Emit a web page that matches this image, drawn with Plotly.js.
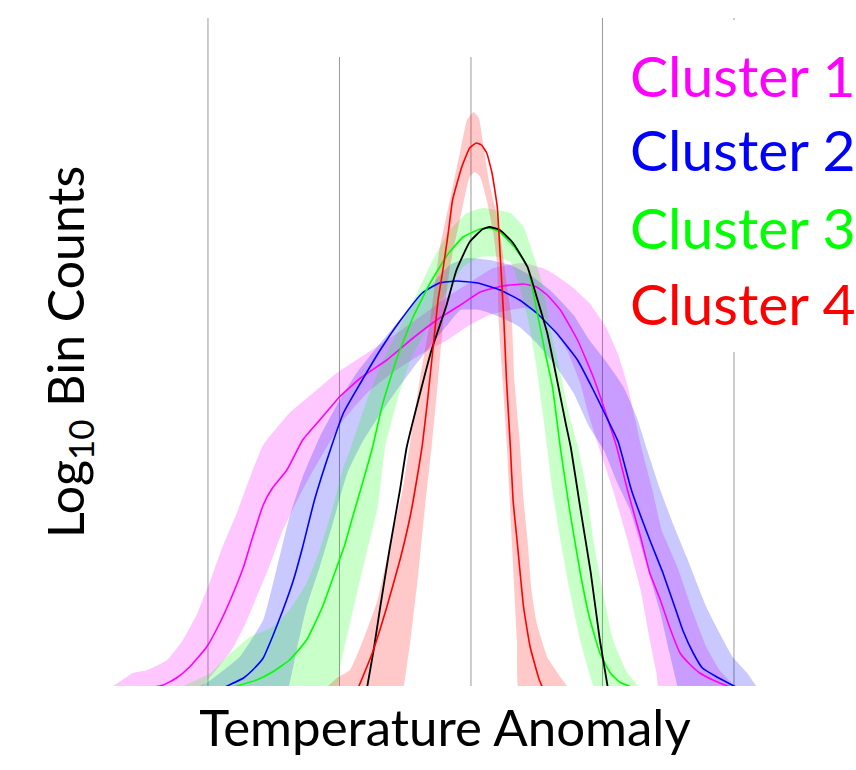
<!DOCTYPE html>
<html>
<head>
<meta charset="utf-8">
<script src="https://cdn.plot.ly/plotly-3.0.1.min.js"></script>
<style>html,body{margin:0;padding:0;background:#fff;}#chart{width:856px;height:770px;}</style>
</head>
<body>
<div id="chart"></div>
<script>
// ---- data (x: temperature anomaly, y: log10 bin counts) ----
const clusterNames = ['Cluster 1', 'Cluster 2', 'Cluster 3', 'Cluster 4'];
const xTitle = 'Temperature Anomaly';
const yTitle = 'Log<sub>10</sub> Bin Counts';

const c1LineX = [-2.53,-2.34,-2.24,-2.14,-2.01,-1.91,-1.83,-1.73,-1.66,-1.58,-1.51,-1.40,-1.28,-1.15,-1.00,-0.84,-0.64,-0.44,-0.26,-0.08,0.07,0.24,0.40,0.50,0.58,0.68,0.81,0.93,1.03,1.11,1.19,1.29,1.36,1.44,1.51,1.59,1.67,1.74,1.84,1.95,2.05];
const c1LineY = [-0.04,0.01,0.08,0.19,0.39,0.63,0.86,1.19,1.49,1.81,1.98,2.16,2.46,2.66,2.89,3.08,3.26,3.48,3.66,3.81,3.94,4.00,4.02,3.99,3.91,3.76,3.46,3.09,2.71,2.38,1.96,1.49,1.13,0.86,0.59,0.33,0.21,0.13,0.06,0.00,-0.04];
const c1UpperX = [-2.82,-2.72,-2.57,-2.46,-2.31,-2.19,-2.08,-1.98,-1.89,-1.78,-1.68,-1.58,-1.38,-1.20,-1.02,-0.79,-0.56,-0.39,-0.18,0.02,0.17,0.40,0.58,0.75,0.90,1.03,1.12,1.19,1.25,1.30,1.38,1.45,1.57,1.69,1.79,1.89,1.99,2.08];
const c1UpperY = [-0.09,0.00,0.13,0.16,0.26,0.46,0.73,1.06,1.39,1.73,2.09,2.41,2.73,2.93,3.13,3.33,3.53,3.69,3.89,4.06,4.18,4.23,4.16,4.01,3.83,3.58,3.31,3.01,2.66,2.36,1.96,1.56,1.19,0.73,0.39,0.16,0.02,-0.09];
const c1LowerX = [-2.10,-1.95,-1.82,-1.72,-1.63,-1.53,-1.43,-1.32,-1.22,-1.10,-0.97,-0.79,-0.59,-0.39,-0.18,-0.01,0.14,0.30,0.41,0.52,0.62,0.73,0.83,0.90,0.98,1.08,1.19,1.29,1.36,1.41,1.44];
const c1LowerY = [-0.09,0.14,0.36,0.61,0.89,1.21,1.56,1.86,2.11,2.38,2.66,2.93,3.14,3.31,3.46,3.61,3.71,3.76,3.78,3.73,3.59,3.36,3.03,2.69,2.36,1.96,1.46,0.96,0.46,0.13,-0.09];

const c2LineX = [-1.92,-1.73,-1.66,-1.58,-1.51,-1.43,-1.35,-1.28,-1.19,-1.07,-0.97,-0.84,-0.69,-0.54,-0.37,-0.24,-0.11,0.05,0.22,0.37,0.50,0.65,0.81,0.93,1.03,1.12,1.22,1.36,1.46,1.55,1.61,1.69,1.76,1.87,1.97,2.06];
const c2LineY = [-0.04,0.08,0.16,0.28,0.49,0.76,1.06,1.39,1.86,2.36,2.73,3.03,3.36,3.65,3.93,4.03,4.05,4.03,3.96,3.86,3.73,3.53,3.26,2.96,2.69,2.44,1.96,1.46,1.13,0.79,0.56,0.33,0.18,0.09,0.02,-0.04];
const c2UpperX = [-2.19,-1.98,-1.76,-1.58,-1.48,-1.38,-1.28,-1.15,-1.02,-0.87,-0.67,-0.46,-0.29,-0.16,-0.03,0.14,0.30,0.45,0.60,0.78,0.90,1.03,1.16,1.26,1.34,1.44,1.54,1.64,1.79,1.89,1.99,2.10,2.17,2.24];
const c2UpperY = [-0.09,0.06,0.29,0.66,1.16,1.69,2.09,2.49,2.81,3.13,3.46,3.79,4.03,4.21,4.28,4.26,4.21,4.11,3.96,3.71,3.46,3.24,2.99,2.69,2.36,1.96,1.61,1.29,0.79,0.53,0.29,0.13,0.00,-0.09];
const c2LowerX = [-1.40,-1.36,-1.32,-1.25,-1.15,-1.05,-0.94,-0.83,-0.71,-0.59,-0.44,-0.29,-0.18,-0.08,0.07,0.22,0.37,0.50,0.65,0.78,0.90,1.01,1.11,1.21,1.34,1.44,1.51,1.57,1.59];
const c2LowerY = [-0.09,0.14,0.39,0.79,1.19,1.63,2.13,2.43,2.68,2.91,3.18,3.43,3.61,3.76,3.76,3.69,3.59,3.43,3.19,2.93,2.59,2.36,2.04,1.76,1.19,0.73,0.33,0.00,-0.09];

const c3LineX = [-1.89,-1.63,-1.51,-1.38,-1.25,-1.13,-1.02,-0.96,-0.90,-0.84,-0.79,-0.75,-0.67,-0.56,-0.44,-0.31,-0.18,-0.06,0.07,0.14,0.22,0.33,0.43,0.50,0.56,0.62,0.68,0.75,0.83,0.90,0.98,1.06,1.13,1.22,1.29];
const c3LineY = [-0.04,0.06,0.14,0.26,0.46,0.79,1.19,1.41,1.69,1.96,2.19,2.38,2.83,3.29,3.69,4.03,4.31,4.49,4.57,4.58,4.54,4.39,4.19,3.76,3.36,2.99,2.38,1.76,1.14,0.69,0.33,0.13,0.04,-0.01,-0.04];
const c3UpperX = [-2.33,-2.14,-1.98,-1.86,-1.68,-1.51,-1.38,-1.25,-1.15,-1.05,-0.97,-0.92,-0.79,-0.67,-0.54,-0.41,-0.29,-0.16,-0.03,0.09,0.20,0.30,0.40,0.47,0.55,0.60,0.68,0.75,0.81,0.88,0.93,1.00,1.08,1.19,1.32];
const c3UpperY = [-0.09,0.03,0.13,0.29,0.49,0.59,0.76,1.03,1.36,1.79,2.19,2.36,2.86,3.26,3.59,3.93,4.26,4.56,4.73,4.78,4.76,4.73,4.59,4.33,3.99,3.59,3.13,2.69,2.41,1.96,1.46,0.96,0.46,0.13,-0.09];
const c3LowerX = [-1.01,-1.00,-0.92,-0.82,-0.71,-0.65,-0.56,-0.46,-0.33,-0.21,-0.06,0.07,0.20,0.30,0.37,0.43,0.49,0.54,0.58,0.62,0.68,0.75,0.83,0.90,0.96];
const c3LowerY = [-0.09,0.16,0.63,1.19,1.79,2.41,2.86,3.26,3.59,3.89,4.19,4.29,4.29,4.24,3.99,3.69,3.26,2.79,2.38,1.96,1.46,0.96,0.46,0.13,-0.09];

const c4LineX = [-0.88,-0.75,-0.64,-0.54,-0.46,-0.40,-0.37,-0.33,-0.29,-0.25,-0.21,-0.17,-0.14,-0.07,-0.01,0.04,0.08,0.12,0.16,0.20,0.22,0.25,0.27,0.30,0.32,0.35,0.40,0.45,0.52,0.57];
const c4LineY = [-0.09,0.33,0.79,1.26,1.71,2.16,2.41,2.86,3.36,3.86,4.19,4.56,4.86,5.19,5.38,5.43,5.41,5.33,5.13,4.79,4.36,3.66,3.06,2.38,1.86,1.46,0.79,0.39,0.06,-0.09];
const c4UpperX = [-1.16,-1.02,-0.92,-0.82,-0.71,-0.62,-0.52,-0.46,-0.39,-0.31,-0.24,-0.16,-0.08,-0.03,0.02,0.06,0.10,0.14,0.20,0.24,0.27,0.31,0.33,0.37,0.40,0.43,0.46,0.50,0.58,0.68,0.77];
const c4UpperY = [-0.09,0.08,0.16,0.46,0.86,1.39,1.96,2.46,3.06,3.66,4.36,4.86,5.36,5.66,5.74,5.68,5.36,5.03,4.69,4.36,4.03,3.66,3.06,2.46,1.86,1.46,0.96,0.63,0.29,0.09,-0.09];
const c4LowerX = [-0.52,-0.46,-0.40,-0.35,-0.30,-0.25,-0.21,-0.16,-0.08,-0.01,0.03,0.07,0.12,0.17,0.20,0.21,0.24,0.27,0.31,0.35,0.37];
const c4LowerY = [-0.09,0.46,1.13,1.79,2.38,3.06,3.66,4.19,4.69,5.09,5.14,5.09,4.86,4.53,4.19,3.66,3.06,2.46,1.46,0.46,-0.09];

const allLineX = [-0.80,-0.74,-0.69,-0.62,-0.54,-0.49,-0.40,-0.30,-0.19,-0.11,-0.01,0.09,0.14,0.22,0.32,0.43,0.50,0.58,0.65,0.72,0.76,0.83,0.91,0.98,1.05];
const allLineY = [-0.09,0.36,0.79,1.36,1.96,2.38,2.86,3.36,3.79,4.16,4.44,4.57,4.59,4.56,4.43,4.19,3.89,3.53,3.09,2.63,2.38,1.79,1.14,0.46,-0.09];

const gridX = [-2, -1, 0, 1, 2];

// ---- styling ----
const lineColors = ['#ff00ff', '#0000ff', '#00ff00', '#ff0000'];
const bandColors = ['rgba(255,0,255,0.22)', 'rgba(0,0,255,0.21)', 'rgba(0,255,0,0.21)', 'rgba(255,0,0,0.21)'];

const clusters = [
  {lx: c1LineX, ly: c1LineY, ux: c1UpperX, uy: c1UpperY, dx: c1LowerX, dy: c1LowerY},
  {lx: c2LineX, ly: c2LineY, ux: c2UpperX, uy: c2UpperY, dx: c2LowerX, dy: c2LowerY},
  {lx: c3LineX, ly: c3LineY, ux: c3UpperX, uy: c3UpperY, dx: c3LowerX, dy: c3LowerY},
  {lx: c4LineX, ly: c4LineY, ux: c4UpperX, uy: c4UpperY, dx: c4LowerX, dy: c4LowerY}
];

const traces = [];
clusters.forEach((c, i) => {
  traces.push({
    type: 'scatter', mode: 'lines', name: clusterNames[i] + ' range',
    x: c.ux.concat(c.dx.slice().reverse()),
    y: c.uy.concat(c.dy.slice().reverse()),
    fill: 'toself', fillcolor: bandColors[i],
    line: {width: 0, shape: 'spline', smoothing: 0.4},
    hoverinfo: 'skip', showlegend: false
  });
});
[0, 1, 2].forEach(i => {
  traces.push({
    type: 'scatter', mode: 'lines', name: clusterNames[i],
    x: clusters[i].lx, y: clusters[i].ly,
    line: {color: lineColors[i], width: 1.6, shape: 'spline', smoothing: 0.4},
    showlegend: false
  });
});
traces.push({
  type: 'scatter', mode: 'lines', name: 'All',
  x: allLineX, y: allLineY,
  line: {color: '#000000', width: 1.8, shape: 'spline', smoothing: 0.4},
  showlegend: false
});
traces.push({
  type: 'scatter', mode: 'lines', name: clusterNames[3],
  x: clusters[3].lx, y: clusters[3].ly,
  line: {color: lineColors[3], width: 1.6, shape: 'spline', smoothing: 0.4},
  showlegend: false
});

const gridTop = [6.68, 6.29, 6.29, 6.68, 3.34];
const shapes = gridX.map((gx, k) => ({
  type: 'line', xref: 'x', yref: 'y', x0: gx, x1: gx, y0: 0, y1: gridTop[k],
  line: {color: '#9a9a9a', width: 1}, layer: 'below'
}));
shapes.push({type: 'line', xref: 'x', yref: 'y', x0: gridX[4], x1: gridX[4], y0: 6.66, y1: 6.68,
  line: {color: '#9a9a9a', width: 1}, layer: 'below'});

const legendY = [0.9147, 0.8039, 0.6871, 0.5734];
const annotations = clusterNames.map((name, i) => ({
  text: name, xref: 'paper', yref: 'paper', x: 0.7226, y: legendY[i],
  xanchor: 'left', yanchor: 'middle', showarrow: false,
  font: {family: 'Lato', size: 57, color: lineColors[i]}
}));

const layout = {
  width: 856, height: 770,
  margin: {l: 34, r: 0, t: 18, b: 84},
  paper_bgcolor: '#ffffff', plot_bgcolor: '#ffffff',
  showlegend: false,
  xaxis: {
    range: [-3.323, 2.928], showgrid: false, zeroline: false, showline: false,
    showticklabels: false, ticks: '',
    title: {text: xTitle, font: {family: 'Lato', size: 51, color: '#000000'}, standoff: 24}
  },
  yaxis: {
    range: [0, 6.68], showgrid: false, zeroline: false, showline: false,
    showticklabels: false, ticks: '', anchor: 'free', position: 0.092,
    title: {text: yTitle, font: {family: 'Lato', size: 50, color: '#000000'}, standoff: 8}
  },
  shapes: shapes,
  annotations: annotations
};

Plotly.newPlot('chart', traces, layout, {staticPlot: true, displayModeBar: false});
</script>
</body>
</html>
